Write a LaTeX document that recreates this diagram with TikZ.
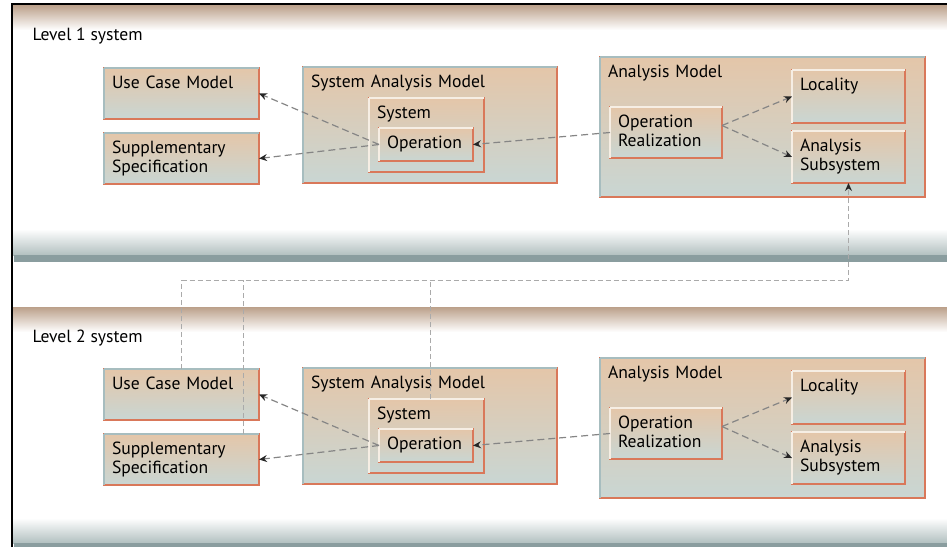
\documentclass[tikz,border=0pt]{standalone}
\usepackage{fontspec}
\setmainfont{PT Sans}
\usepackage{xcolor}
\usetikzlibrary{positioning, arrows.meta}

\definecolor{boxtop}{HTML}{E4C6A9}
\definecolor{boxbot}{HTML}{C9D6D3}
\definecolor{rust}{HTML}{D9785A}
\definecolor{steel}{HTML}{A7BDBF}
\definecolor{cream}{HTML}{F6EEE4}
\definecolor{dusk}{HTML}{BBA08A}
\definecolor{haze}{HTML}{B2C0C0}
\definecolor{slate}{HTML}{8A9D9F}
\definecolor{ash}{HTML}{858585}
\definecolor{fog}{HTML}{AAAAAA}

\begin{document}
\begin{tikzpicture}[x=1pt, y=-1pt, >={Stealth[length=8pt, width=7pt, color=black!85]},
  box/.style={anchor=north west, outer sep=0pt, shade, top color=boxtop, bottom color=boxbot,
    draw=rust, line width=1.6pt, inner xsep=8pt, inner ysep=6pt, text height=14pt, align=left,
    font=\fontsize{17.6pt}{19pt}\selectfont,
    append after command={(\tikzlastnode.south west) edge[draw=#1, line width=1.6pt] (\tikzlastnode.north west)
      (\tikzlastnode.north west) edge[draw=#1, line width=1.6pt] (\tikzlastnode.north east)}},
  box/.default=steel,
  inbox/.style={box=cream},
  title/.style={anchor=base west, font=\fontsize{17.6pt}{19pt}\selectfont},
  dep/.style={->, draw=ash, line width=1.2pt, dash pattern=on 7pt off 4pt},
  link/.style={draw=fog, line width=1pt, dash pattern=on 5pt off 3pt}
]
\useasboundingbox (0,0) rectangle (947,547);

% Panels
\shade[top color=dusk, bottom color=white] (12,5) rectangle (947,30);
\shade[top color=white, bottom color=haze] (12,229) rectangle (947,255);
\fill[slate] (14,255) rectangle (947,262);
\shade[top color=dusk, bottom color=white] (12,307) rectangle (947,332);
\shade[top color=white, bottom color=haze] (12,518) rectangle (947,543);
\fill[slate] (14,543) rectangle (947,547);
\draw[line width=1.5pt] (12,547) |- (947,4);

% Level 1
\node[title] (t1) at (29,40) {Level 1 system};
\node[box, text width=139pt, text depth=25pt] (uc1) at (104,68) {Use Case Model};
\node[box, text width=139pt, text depth=25pt, below=14pt of uc1] (sup1) {Supplementary\\Specification};
\node[box, text width=238pt, text depth=90pt] (sam1) at (303,67) {System Analysis Model};
\node[inbox, text width=99pt, text depth=48pt] (sys1) at (369,98) {System};
\node[inbox, text width=78pt, text depth=7pt] (op1) at (379,128) {Operation};
\node[box, text width=309pt, text depth=114pt] (am1) at (600,57) {Analysis Model};
\node[inbox, text width=96pt, text depth=25pt] (or1) at (610,107) {Operation\\Realization};
\node[inbox, text width=97pt, text depth=27pt] (loc1) at (792,70) {Locality};
\node[inbox, text width=97pt, text depth=26pt, below=8pt of loc1] (as1) {Analysis\\Subsystem};

% Level 2
\node[title] (t2) at (29,342) {Level 2 system};
\node[box, text width=139pt, text depth=25pt] (uc2) at (104,369) {Use Case Model};
\node[box, text width=139pt, text depth=25pt, below=14pt of uc2] (sup2) {Supplementary\\Specification};
\node[box, text width=238pt, text depth=90pt] (sam2) at (303,368) {System Analysis Model};
\node[inbox, text width=99pt, text depth=48pt] (sys2) at (369,399) {System};
\node[inbox, text width=78pt, text depth=7pt] (op2) at (379,429) {Operation};
\node[box, text width=309pt, text depth=114pt] (am2) at (600,358) {Analysis Model};
\node[inbox, text width=96pt, text depth=25pt] (or2) at (610,408) {Operation\\Realization};
\node[inbox, text width=97pt, text depth=27pt] (loc2) at (792,371) {Locality};
\node[inbox, text width=97pt, text depth=26pt, below=8pt of loc2] (as2) {Analysis\\Subsystem};

% Arrows Level 1
\draw[dep] (op1.west) -- (uc1.east);
\draw[dep] (op1.west) -- (sup1.east);
\draw[dep] (or1.west) -- (op1.east);
\draw[dep] ([yshift=7pt]or1.east) -- (loc1.west);
\draw[dep] ([yshift=7pt]or1.east) -- (as1.west);

% Arrows Level 2
\draw[dep] (op2.west) -- (uc2.east);
\draw[dep] (op2.west) -- (sup2.east);
\draw[dep] (or2.west) -- (op2.east);
\draw[dep] ([yshift=7pt]or2.east) -- (loc2.west);
\draw[dep] ([yshift=7pt]or2.east) -- (as2.west);

% Level 2 to Level 1
\coordinate (bus) at (as1.south |- 0,280);
\coordinate (busend) at (uc2.north |- bus);
\draw[link] (uc2.north) -- (busend);
\draw[link] ([xshift=-16pt]sup2.north east) -- ([xshift=-16pt]sup2.north east |- bus);
\draw[link] ([xshift=4pt]sys2.north) -- ([xshift=4pt]sys2.north |- bus);
\draw[link, ->] (busend) -| (as1.south);

\end{tikzpicture}
\end{document}
